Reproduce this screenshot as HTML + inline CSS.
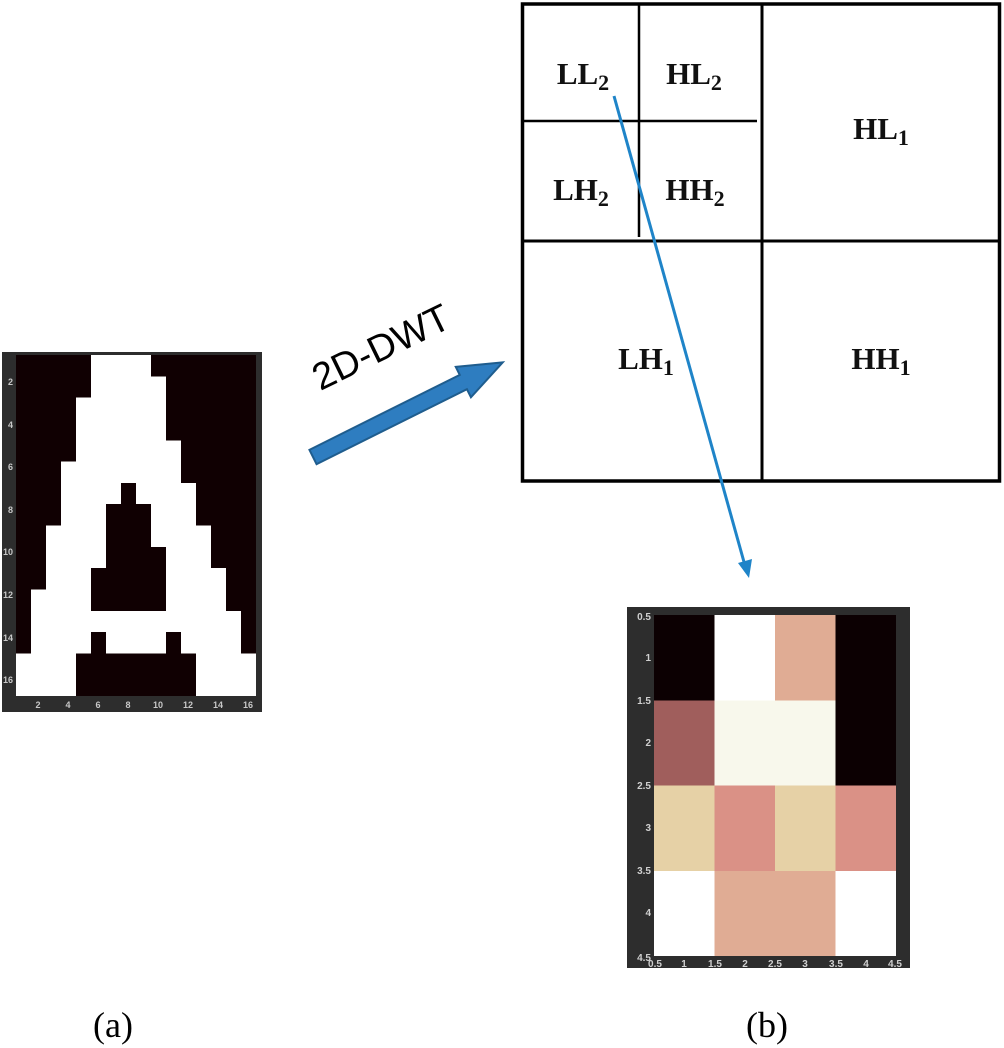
<!DOCTYPE html>
<html><head><meta charset="utf-8"><style>html,body{margin:0;padding:0;background:#fff}svg{display:block}</style></head><body>
<svg width="1004" height="1048" xmlns="http://www.w3.org/2000/svg">
<!-- left image -->
<rect x="2" y="352" width="260" height="360" fill="#2d2d2d"/>
<rect x="16" y="355" width="240" height="341" fill="#fff"/>
<g transform="translate(16,355) scale(15,21.3125)" fill="#100002" shape-rendering="crispEdges">
<rect x="0" y="0" width="5" height="2"/><rect x="0" y="2" width="4" height="3"/><rect x="0" y="5" width="3" height="3"/><rect x="0" y="8" width="2" height="3"/><rect x="0" y="11" width="1" height="3"/>
<rect x="9" y="0" width="7" height="1"/><rect x="10" y="1" width="6" height="3"/><rect x="11" y="4" width="5" height="2"/><rect x="12" y="6" width="4" height="2"/><rect x="13" y="8" width="3" height="2"/><rect x="14" y="10" width="2" height="2"/><rect x="15" y="12" width="1" height="2"/>
<rect x="7" y="6" width="1" height="1"/><rect x="6" y="7" width="3" height="2"/><rect x="6" y="9" width="4" height="1"/><rect x="5" y="10" width="5" height="2"/>
<rect x="5" y="13" width="1" height="1"/><rect x="10" y="13" width="1" height="1"/><rect x="4" y="14" width="8" height="2"/>
</g>
<g font-family="Liberation Sans, sans-serif" font-size="9" font-weight="bold" fill="#c8c8c8" text-anchor="end">
<text x="13" y="385">2</text><text x="13" y="428">4</text><text x="13" y="470">6</text><text x="13" y="513">8</text><text x="13" y="555">10</text><text x="13" y="598">12</text><text x="13" y="641">14</text><text x="13" y="683">16</text>
</g>
<g font-family="Liberation Sans, sans-serif" font-size="9" font-weight="bold" fill="#c8c8c8" text-anchor="middle">
<text x="38" y="708">2</text><text x="68" y="708">4</text><text x="98" y="708">6</text><text x="128" y="708">8</text><text x="158" y="708">10</text><text x="188" y="708">12</text><text x="218" y="708">14</text><text x="248" y="708">16</text>
</g>
<!-- right heatmap -->
<rect x="627" y="607" width="283" height="361" fill="#2d2d2d"/>
<g transform="translate(654,615) scale(60.5,85.25)" shape-rendering="crispEdges">
<rect x="0" y="0" width="1" height="1" fill="#0c0002"/><rect x="1" y="0" width="1" height="1" fill="#fff"/><rect x="2" y="0" width="1" height="1" fill="#e0ac94"/><rect x="3" y="0" width="1" height="2" fill="#0c0002"/>
<rect x="0" y="1" width="1" height="1" fill="#a05e5c"/><rect x="1" y="1" width="2" height="1" fill="#f8f8ec"/>
<rect x="0" y="2" width="1" height="1" fill="#e6d1a6"/><rect x="1" y="2" width="1" height="1" fill="#da9186"/><rect x="2" y="2" width="1" height="1" fill="#e6d1a6"/><rect x="3" y="2" width="1" height="1" fill="#da9186"/>
<rect x="0" y="3" width="1" height="1" fill="#fff"/><rect x="1" y="3" width="2" height="1" fill="#e0ac94"/><rect x="3" y="3" width="1" height="1" fill="#fff"/>
</g>
<g font-family="Liberation Sans, sans-serif" font-size="10" font-weight="bold" fill="#d0d0d0" text-anchor="end">
<text x="651" y="620">0.5</text><text x="651" y="661">1</text><text x="651" y="704">1.5</text><text x="651" y="746">2</text><text x="651" y="789">2.5</text><text x="651" y="831">3</text><text x="651" y="874">3.5</text><text x="651" y="916">4</text><text x="651" y="961">4.5</text>
</g>
<g font-family="Liberation Sans, sans-serif" font-size="10" font-weight="bold" fill="#d0d0d0" text-anchor="middle">
<text x="655" y="967">0.5</text><text x="684" y="967">1</text><text x="715" y="967">1.5</text><text x="745" y="967">2</text><text x="775" y="967">2.5</text><text x="805" y="967">3</text><text x="836" y="967">3.5</text><text x="866" y="967">4</text><text x="895" y="967">4.5</text>
</g>
<!-- grid diagram -->
<g stroke="#000" fill="none">
<rect x="522.5" y="4" width="477" height="477" stroke-width="3.5"/>
<line x1="762" y1="4" x2="762" y2="481" stroke-width="3"/>
<line x1="522" y1="241" x2="1000" y2="241" stroke-width="3"/>
<line x1="639" y1="4" x2="639" y2="237" stroke-width="2.5"/>
<line x1="522" y1="121" x2="757" y2="121" stroke-width="2.5"/>
</g>
<g font-family="Liberation Serif, serif" font-weight="bold" font-size="31" fill="#111" text-anchor="middle">
<text x="583" y="84">LL<tspan font-size="22" dy="6">2</tspan></text>
<text x="694" y="84">HL<tspan font-size="22" dy="6">2</tspan></text>
<text x="581" y="200">LH<tspan font-size="22" dy="6">2</tspan></text>
<text x="695" y="200">HH<tspan font-size="22" dy="6">2</tspan></text>
<text x="881" y="139">HL<tspan font-size="22" dy="6">1</tspan></text>
<text x="646" y="369">LH<tspan font-size="22" dy="6">1</tspan></text>
<text x="881" y="369">HH<tspan font-size="22" dy="6">1</tspan></text>
</g>
<!-- blue connector -->
<line x1="614" y1="96" x2="744" y2="562" stroke="#1f84c8" stroke-width="3"/>
<polygon points="749,578 738,563 752,559" fill="#1f84c8"/>
<!-- big arrow -->
<g transform="translate(313,457) rotate(-26.5)">
<polygon points="0,-8 168,-8 168,-17 212,0 168,17 168,8 0,8" fill="#2e7dc0" stroke="#1f5d8e" stroke-width="2"/>
</g>
<text x="381" y="360" transform="rotate(-26,381,347)" font-family="Liberation Sans, sans-serif" font-size="38" fill="#000" text-anchor="middle">2D-DWT</text>
<!-- captions -->
<g font-family="Liberation Serif, serif" font-size="36" fill="#000" text-anchor="middle">
<text x="113" y="1037">(a)</text><text x="767" y="1037">(b)</text>
</g>
</svg>
</body></html>
